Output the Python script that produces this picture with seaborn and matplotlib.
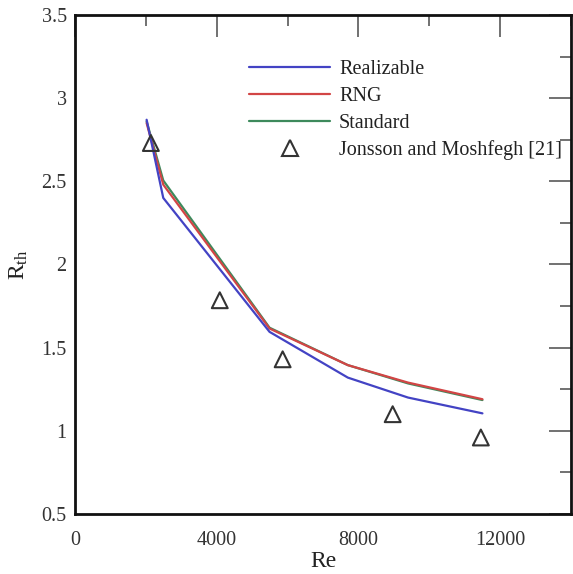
import matplotlib
matplotlib.use("Agg")
import matplotlib.pyplot as plt
import seaborn as sns
import pandas as pd
from matplotlib.ticker import MultipleLocator
from matplotlib.lines import Line2D

# Data
re_realizable = [2020, 2490, 5490, 7700, 9400, 11500]
rth_realizable = [2.87, 2.40, 1.595, 1.32, 1.20, 1.105]

re_rng = [2020, 2490, 5490, 7700, 9400, 11500]
rth_rng = [2.85, 2.48, 1.615, 1.395, 1.29, 1.19]

re_standard = [2020, 2490, 5490, 7700, 9400, 11500]
rth_standard = [2.86, 2.505, 1.62, 1.395, 1.285, 1.185]

re_exp = [2140, 4085, 5860, 8966, 11455]
rth_exp = [2.73, 1.785, 1.43, 1.10, 0.96]

series_names = ["Realizable", "RNG", "Standard"]
series_colors = ["#4343c4", "#d24545", "#3d8a5c"]
exp_label = "Jonsson and Moshfegh [21]"

x_ticks = [0, 4000, 8000, 12000]
y_ticks = [0.5, 1, 1.5, 2, 2.5, 3, 3.5]
y_tick_labels = ["0.5", "1", "1.5", "2", "2.5", "3", "3.5"]

sns.set_style("white")
plt.rcParams["font.family"] = ["Liberation Serif", "DejaVu Serif"]
plt.rcParams["mathtext.fontset"] = "custom"
plt.rcParams["mathtext.rm"] = "Liberation Serif"
plt.rcParams["mathtext.it"] = "Liberation Serif"

df = pd.concat([
    pd.DataFrame({"Re": re_realizable, "Rth": rth_realizable, "model": series_names[0]}),
    pd.DataFrame({"Re": re_rng, "Rth": rth_rng, "model": series_names[1]}),
    pd.DataFrame({"Re": re_standard, "Rth": rth_standard, "model": series_names[2]}),
], ignore_index=True)
df_exp = pd.DataFrame({"Re": re_exp, "Rth": rth_exp, "src": exp_label})

fig = plt.figure(figsize=(5.73, 5.74), dpi=100)
ax = fig.add_axes([0.131, 0.1045, 0.8655, 0.8695])

sns.lineplot(data=df, x="Re", y="Rth", hue="model",
             hue_order=[series_names[2], series_names[1], series_names[0]],
             palette=dict(zip(series_names, series_colors)), linewidth=1.6, sort=False,
             estimator=None, ax=ax, legend=False, zorder=3)
sns.scatterplot(data=df_exp, x="Re", y="Rth", marker="^", s=130, facecolor="none",
                edgecolor="#333333", linewidth=1.5, ax=ax, legend=False, zorder=4)

ax.set_xlim(0, 14000)
ax.set_ylim(0.5, 3.5)
ax.set_xticks(x_ticks)
ax.set_yticks(y_ticks)
ax.set_yticklabels(y_tick_labels)
ax.xaxis.set_minor_locator(MultipleLocator(2000))
ax.yaxis.set_minor_locator(MultipleLocator(0.25))
ax.tick_params(which="both", direction="in", top=True, right=True, labelsize=14.5,
               colors="#666666", labelcolor="#333333")
ax.tick_params(axis="x", pad=12)
ax.tick_params(axis="y", pad=6)
ax.tick_params(which="major", length=16, width=1.3)
ax.tick_params(which="minor", length=8, width=1.3)
for s in ax.spines.values():
    s.set_linewidth(2.0)
    s.set_color("#111111")

ax.set_xlabel("Re", fontsize=17, color="#222222")
ax.xaxis.set_label_coords(0.5, -0.074)
ax.set_ylabel(r"R$_{\mathregular{th}}$", fontsize=17, color="#222222", labelpad=8)

handles = [Line2D([], [], color=c, lw=1.6) for c in series_colors]
handles.append(Line2D([], [], color="#333333", marker="^", markersize=11, markerfacecolor="none",
                      markeredgewidth=1.5, linestyle="none"))
labels = series_names + [exp_label]
ax.legend(handles, labels, loc="upper left", bbox_to_anchor=(0.315, 0.946), frameon=False,
          fontsize=14.5, handlelength=4.0, handletextpad=0.45, labelspacing=0.38,
          labelcolor="#222222")

fig.savefig("out.png", dpi=100, facecolor="white")
